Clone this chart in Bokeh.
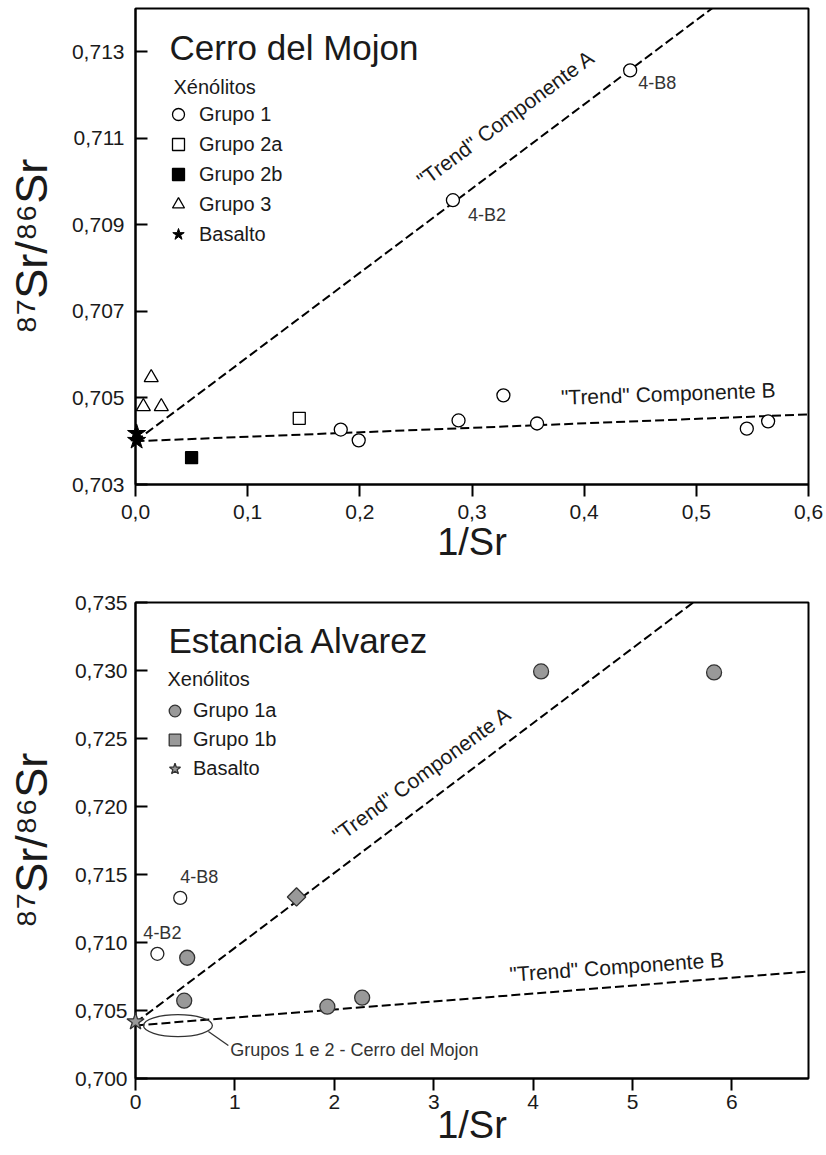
import math
from bokeh.plotting import figure
from bokeh.models import (Range1d, FixedTicker, CustomJSTickFormatter, Label,
                          Legend, LegendItem)
from bokeh.layouts import column
from bokeh.embed import file_html
from bokeh.resources import INLINE
from bokeh.core.properties import value

FONT = "Liberation Sans"
INK = "#1a1a1a"

# ------------------------------------------------------------------ data
# Cerro del Mojon (top panel)
cm_x_ticks = [0.0, 0.1, 0.2, 0.3, 0.4, 0.5, 0.6]
cm_x_labels = ["0,0", "0,1", "0,2", "0,3", "0,4", "0,5", "0,6"]
cm_y_ticks = [0.703, 0.705, 0.707, 0.709, 0.711, 0.713]
cm_y_labels = ["0,703", "0,705", "0,707", "0,709", "0,711", "0,713"]

cm_g1_x = [0.183, 0.199, 0.283, 0.288, 0.328, 0.358, 0.441, 0.545, 0.564]
cm_g1_y = [0.70427, 0.70402, 0.70957, 0.70448, 0.70506, 0.70441, 0.71257, 0.70429, 0.70446]
cm_g2a_x = [0.146]
cm_g2a_y = [0.70453]
cm_g2b_x = [0.050]
cm_g2b_y = [0.70362]
cm_g3_x = [0.007, 0.014, 0.023]
cm_g3_y = [0.70480, 0.70547, 0.70480]
cm_bas_x = [0.001, 0.001]
cm_bas_y = [0.70418, 0.70402]

cm_pt_names = ["4-B2", "4-B8"]
cm_pt_x = [0.283, 0.441]
cm_pt_y = [0.70957, 0.71257]

cm_trendA_x = [0.0, 0.52]
cm_trendA_y = [0.7040, 0.71412]
cm_trendB_x = [0.0, 0.6]
cm_trendB_y = [0.7040, 0.70462]
cm_trend_text = ['"Trend" Componente A', '"Trend" Componente B']
cm_trend_tx = [0.330, 0.475]
cm_trend_ty = [0.71146, 0.70510]

# Estancia Alvarez (bottom panel)
ea_x_ticks = [0, 1, 2, 3, 4, 5, 6]
ea_x_labels = ["0", "1", "2", "3", "4", "5", "6"]
ea_y_ticks = [0.700, 0.705, 0.710, 0.715, 0.720, 0.725, 0.730, 0.735]
ea_y_labels = ["0,700", "0,705", "0,710", "0,715", "0,720", "0,725", "0,730", "0,735"]

ea_g1a_x = [0.49, 0.52, 1.93, 2.28, 4.08, 5.82]
ea_g1a_y = [0.70572, 0.70888, 0.70528, 0.70594, 0.72993, 0.72986]
ea_g1b_x = [1.62]
ea_g1b_y = [0.71335]
ea_bas_x = [0.0]
ea_bas_y = [0.70418]
ea_cm_names = ["4-B2", "4-B8"]
ea_cm_x = [0.22, 0.45]
ea_cm_y = [0.70917, 0.71328]

ea_trendA_x = [0.0, 5.61]
ea_trendA_y = [0.7041, 0.735]
ea_trendB_x = [0.0, 6.77]
ea_trendB_y = [0.7039, 0.70787]
ea_trend_text = ['"Trend" Componente A', '"Trend" Componente B']
ea_trend_tx = [2.88, 4.84]
ea_trend_ty = [0.72238, 0.70822]

ea_ellipse_x = [0.427]
ea_ellipse_y = [0.70389]
ea_ellipse_w = [0.693]
ea_ellipse_h = [0.00161]
ea_leader_x = [0.733, 0.934]
ea_leader_y = [0.70345, 0.70242]
ea_note_text = ["Grupos 1 e 2 - Cerro del Mojon"]
ea_note_x = [0.954]
ea_note_y = [0.70213]

X_TITLE = "1/Sr"
Y_TITLE = "\u2078\u2077Sr/\u2078\u2076Sr"


# ------------------------------------------------------------------ helpers
def base_fig(height, bl, br, bt, bb, xr, yr, xt, xl, yt, yl, xdec, ydec):
    p = figure(width=826, height=height, x_range=Range1d(*xr), y_range=Range1d(*yr),
               output_backend="svg", toolbar_location=None,
               min_border_left=bl, min_border_right=br, min_border_top=bt,
               min_border_bottom=bb)
    p.xgrid.visible = False
    p.ygrid.visible = False
    p.outline_line_color = "black"
    p.outline_line_width = 2
    p.background_fill_color = "white"
    p.border_fill_color = "white"
    for ax, ticks, labels, dec in ((p.xaxis[0], xt, xl, xdec), (p.yaxis[0], yt, yl, ydec)):
        ax.ticker = FixedTicker(ticks=ticks)
        ax.formatter = CustomJSTickFormatter(
            code="return tick.toFixed(%d).replace('.', ',');" % dec)
        ax.major_label_overrides = dict(zip(ticks, labels))
        ax.minor_tick_line_color = None
        ax.axis_line_width = 2
        ax.axis_line_color = "black"
        ax.major_tick_line_width = 2
        ax.major_tick_line_color = "black"
        ax.major_label_text_font = FONT
        ax.major_label_text_font_size = "21px"
        ax.major_label_text_color = INK
        ax.axis_label_text_font = FONT
        ax.axis_label_text_font_style = "normal"
        ax.axis_label_text_color = INK
    p.xaxis.axis_label = X_TITLE
    p.xaxis.axis_label_text_font_size = "38px"
    p.yaxis.axis_label = Y_TITLE
    p.yaxis.axis_label_text_font_size = "45px"
    p.xaxis.major_tick_in = 0
    p.xaxis.major_tick_out = 12
    p.yaxis.major_tick_in = 12
    p.yaxis.major_tick_out = 0
    p.yaxis.major_label_standoff = 11
    return p


def screen_label(p, x, y, txt, size, align="left"):
    p.add_layout(Label(x=x, y=y, x_units="screen", y_units="screen", text=txt,
                       text_align=align, text_baseline="middle", text_font=FONT,
                       text_font_size=size, text_color=INK))


DASH = "9 4"

# ------------------------------------------------------------------ top panel
p1 = base_fig(575, 134, 17, 8, 91, (0.0, 0.6), (0.703, 0.7140),
              cm_x_ticks, cm_x_labels, cm_y_ticks, cm_y_labels, 1, 3)
p1.xaxis.major_label_standoff = 8
p1.xaxis.axis_label_standoff = -1
p1.yaxis.axis_label_standoff = 12

p1.line(cm_trendA_x, cm_trendA_y, line_color="black", line_width=2, line_dash=DASH)
p1.line(cm_trendB_x, cm_trendB_y, line_color="black", line_width=2, line_dash=DASH)

r_g1 = p1.scatter(cm_g1_x, cm_g1_y, marker="circle", size=13, fill_color="white",
                  line_color="black", line_width=1.3)
r_g2a = p1.scatter(cm_g2a_x, cm_g2a_y, marker="square", size=12, fill_color="white",
                   line_color="black", line_width=1.3)
r_g2b = p1.scatter(cm_g2b_x, cm_g2b_y, marker="square", size=12, fill_color="black",
                   line_color="black", line_width=1.3)
r_g3 = p1.scatter(cm_g3_x, cm_g3_y, marker="triangle", size=14, fill_color="white",
                  line_color="black", line_width=1.3)
r_bas = p1.scatter(cm_bas_x, cm_bas_y, marker="star", size=19, fill_color="black",
                   line_color="black", line_width=1, level="overlay")

p1.text(cm_trend_tx, cm_trend_ty, text=cm_trend_text, angle=[36.5, 2.0], angle_units="deg",
        text_align="center", text_baseline="middle", text_font=value(FONT),
        text_font_size="21px", text_color=INK)
p1.text(cm_pt_x, cm_pt_y, text=cm_pt_names, x_offset=[15, 8], y_offset=[15, 13],
        text_align="left", text_baseline="middle", text_font=value(FONT),
        text_font_size="18px", text_color="#333333")

leg1 = Legend(items=[LegendItem(label="Grupo 1", renderers=[r_g1]),
                     LegendItem(label="Grupo 2a", renderers=[r_g2a]),
                     LegendItem(label="Grupo 2b", renderers=[r_g2b]),
                     LegendItem(label="Grupo 3", renderers=[r_g3]),
                     LegendItem(label="Basalto", renderers=[r_bas])],
              location=(28, 235), orientation="vertical", glyph_width=30, glyph_height=30,
              spacing=0, padding=0, margin=0, label_standoff=6, label_height=20,
              label_text_font=FONT, label_text_font_size="20px", label_text_color=INK,
              border_line_color=None, background_fill_alpha=0)
p1.add_layout(leg1)

screen_label(p1, 34, 437, "Cerro del Mojon", "35px")
screen_label(p1, 38, 398, "Xénólitos", "20px")

# ------------------------------------------------------------------ bottom panel
p2 = base_fig(580, 135, 18, 27, 77, (0.0, 6.77), (0.700, 0.735),
              ea_x_ticks, ea_x_labels, ea_y_ticks, ea_y_labels, 0, 3)
p2.yaxis.major_label_standoff = 8
p2.xaxis.major_label_standoff = 4
p2.xaxis.axis_label_standoff = -8
p2.yaxis.axis_label_standoff = 15

p2.line(ea_trendA_x, ea_trendA_y, line_color="black", line_width=2, line_dash=DASH)
p2.line(ea_trendB_x, ea_trendB_y, line_color="black", line_width=2, line_dash=DASH)
p2.ellipse(ea_ellipse_x, ea_ellipse_y, width=ea_ellipse_w, height=ea_ellipse_h,
           fill_color=None, line_color="#333333", line_width=1.3)
p2.line(ea_leader_x, ea_leader_y, line_color="#333333", line_width=1.3)
p2.text(ea_note_x, ea_note_y, text=ea_note_text, text_align="left", text_baseline="middle",
        text_font=value(FONT), text_font_size="18px", text_color="#333333")

p2.scatter(ea_cm_x, ea_cm_y, marker="circle", size=13, fill_color="white",
           line_color="#222222", line_width=1.3)
r_1a = p2.scatter(ea_g1a_x, ea_g1a_y, marker="circle", size=15, fill_color="#999999",
                  line_color="#333333", line_width=1.3)
r_1b = p2.scatter(ea_g1b_x, ea_g1b_y, marker="square", angle=math.pi / 4, size=13,
                  fill_color="#999999", line_color="#333333", line_width=1.3)
r_eb = p2.scatter(ea_bas_x, ea_bas_y, marker="star", size=18, fill_color="#999999",
                  line_color="#333333", line_width=1.3, level="overlay")

p2.text(ea_trend_tx, ea_trend_ty, text=ea_trend_text, angle=[36.0, 4.0], angle_units="deg",
        text_align="center", text_baseline="middle", text_font=value(FONT),
        text_font_size="21px", text_color=INK)
p2.text(ea_cm_x, ea_cm_y, text=ea_cm_names, x_offset=[-14, 0], y_offset=[-21, -21],
        text_align="left", text_baseline="middle", text_font=value(FONT),
        text_font_size="18px", text_color="#333333")

leg2 = Legend(items=[LegendItem(label="Grupo 1a", renderers=[r_1a]),
                     LegendItem(label="Grupo 1b", renderers=[r_1b]),
                     LegendItem(label="Basalto", renderers=[r_eb])],
              location=(25, 295), orientation="vertical", glyph_width=29, glyph_height=29,
              spacing=0, padding=0, margin=0, label_standoff=4, label_height=20,
              label_text_font=FONT, label_text_font_size="20px", label_text_color=INK,
              border_line_color=None, background_fill_alpha=0)
p2.add_layout(leg2)

screen_label(p2, 33, 438, "Estancia Alvarez", "35px")
screen_label(p2, 32, 400, "Xenólitos", "20px")

layout = column(p1, p2)
open("out.html", "w").write(file_html(layout, INLINE, title="Sr isotopes"))
